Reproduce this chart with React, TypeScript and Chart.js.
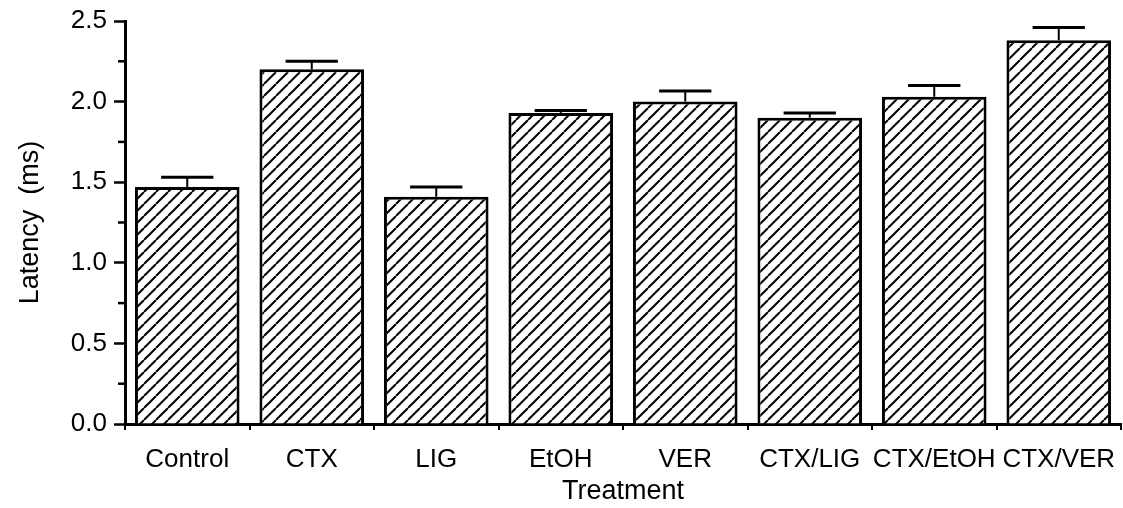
import React, { useEffect, useRef } from "react";
import { Chart, registerables } from "chart.js";

Chart.register(...registerables);

const categories = ["Control", "CTX", "LIG", "EtOH", "VER", "CTX/LIG", "CTX/EtOH", "CTX/VER"];
const latencyMeans = [1.47, 2.2, 1.41, 1.93, 2.0, 1.9, 2.03, 2.38];
const latencyErrors = [0.06, 0.05, 0.06, 0.015, 0.065, 0.03, 0.07, 0.08];
const yTitle = "Latency  (ms)";
const xTitle = "Treatment";

const FONT = '"Liberation Sans", Arial, Helvetica, sans-serif';

function makeHatch(): CanvasPattern | string {
  const s = 12;
  const c = document.createElement("canvas");
  c.width = s;
  c.height = s;
  const g = c.getContext("2d");
  if (!g) return "#fff";
  g.fillStyle = "#fff";
  g.fillRect(0, 0, s, s);
  g.strokeStyle = "#000";
  g.lineWidth = 2;
  g.beginPath();
  for (let k = -1; k <= 1; k++) {
    g.moveTo(k * s, s);
    g.lineTo(k * s + s, 0);
  }
  g.stroke();
  const p = g.createPattern(c, "repeat");
  return p || "#fff";
}

const errorBarPlugin = {
  id: "errorBars",
  afterDatasetsDraw(chart: any) {
    const ctx = chart.ctx;
    const meta = chart.getDatasetMeta(0);
    const yScale = chart.scales.y;
    ctx.save();
    ctx.strokeStyle = "#000";
    meta.data.forEach((el: any, i: number) => {
      const v = latencyMeans[i];
      const e = latencyErrors[i];
      const yTop = yScale.getPixelForValue(v);
      const yErr = yScale.getPixelForValue(v + e);
      const half = el.width * 0.25;
      ctx.lineWidth = 2;
      ctx.beginPath();
      ctx.moveTo(el.x, yTop);
      ctx.lineTo(el.x, yErr);
      ctx.stroke();
      ctx.lineWidth = 3;
      ctx.beginPath();
      ctx.moveTo(el.x - half, yErr);
      ctx.lineTo(el.x + half, yErr);
      ctx.stroke();
    });
    ctx.restore();
  },
};

const minorTickPlugin = {
  id: "minorTicks",
  afterDraw(chart: any) {
    const ctx = chart.ctx;
    const yScale = chart.scales.y;
    const x0 = chart.chartArea.left;
    ctx.save();
    ctx.strokeStyle = "#000";
    ctx.lineWidth = 2.5;
    yScale.ticks.forEach((t: any) => {
      if (Math.abs((t.value * 2) % 1) > 1e-6) {
        const y = yScale.getPixelForValue(t.value);
        ctx.beginPath();
        ctx.moveTo(x0 - 7, y);
        ctx.lineTo(x0, y);
        ctx.stroke();
      }
    });
    ctx.restore();
  },
};

export default function App() {
  const ref = useRef<HTMLCanvasElement | null>(null);

  useEffect(() => {
    document.body.style.margin = "0";
    if (!ref.current) return;
    Chart.defaults.color = "#000";
    const hatch = makeHatch();
    const chart = new Chart(ref.current, {
      type: "bar",
      data: {
        labels: categories,
        datasets: [
          {
            data: latencyMeans,
            backgroundColor: hatch as any,
            borderColor: "#000",
            borderWidth: 3,
            barPercentage: 0.84,
            categoryPercentage: 1.0,
          },
        ],
      },
      options: {
        animation: false,
        responsive: false,
        maintainAspectRatio: false,
        layout: { padding: { top: 21, right: 2, left: 0, bottom: 0 } },
        plugins: {
          legend: { display: false },
          tooltip: { enabled: false },
        },
        scales: {
          x: {
            afterFit: (s: any) => {
              s.height = 84;
              s.paddingLeft = 0;
              s.paddingRight = 0;
            },
            grid: {
              display: true,
              drawOnChartArea: false,
              drawTicks: true,
              tickLength: 6,
              color: "#000",
              lineWidth: 2,
            },
            border: { display: true, color: "#000", width: 3 },
            ticks: {
              color: "#000",
              padding: 14,
              font: { family: FONT, size: 26 },
              maxRotation: 0,
              autoSkip: false,
            },
            title: {
              display: true,
              text: xTitle,
              color: "#000",
              font: { family: FONT, size: 27 },
              padding: { top: 0, bottom: 0 },
            },
          },
          y: {
            min: 0,
            max: 2.5,
            afterFit: (s: any) => {
              s.width = 125;
              s.paddingTop = 0;
              s.paddingBottom = 0;
            },
            grid: {
              display: true,
              drawOnChartArea: false,
              drawTicks: true,
              tickLength: 11,
              tickWidth: 2.5,
              tickColor: (c: any) =>
                c.tick && Math.abs((c.tick.value * 2) % 1) < 1e-6 ? "#000" : "rgba(0,0,0,0)",
              color: "#000",
            },
            border: { display: true, color: "#000", width: 3 },
            ticks: {
              stepSize: 0.25,
              color: "#000",
              padding: 7,
              font: { family: FONT, size: 26 },
              callback: (v: any) => (Math.abs((v * 2) % 1) < 1e-6 ? Number(v).toFixed(1) : ""),
            },
            title: {
              display: true,
              text: yTitle,
              color: "#000",
              font: { family: FONT, size: 27 },
              padding: { top: 14, bottom: 0 },
            },
          },
        },
      },
      plugins: [errorBarPlugin, minorTickPlugin],
    });
    return () => chart.destroy();
  }, []);

  return (
    <div style={{ width: 1123, height: 508, background: "#fff" }}>
      <canvas ref={ref} width={1123} height={508} style={{ display: "block" }} />
    </div>
  );
}
